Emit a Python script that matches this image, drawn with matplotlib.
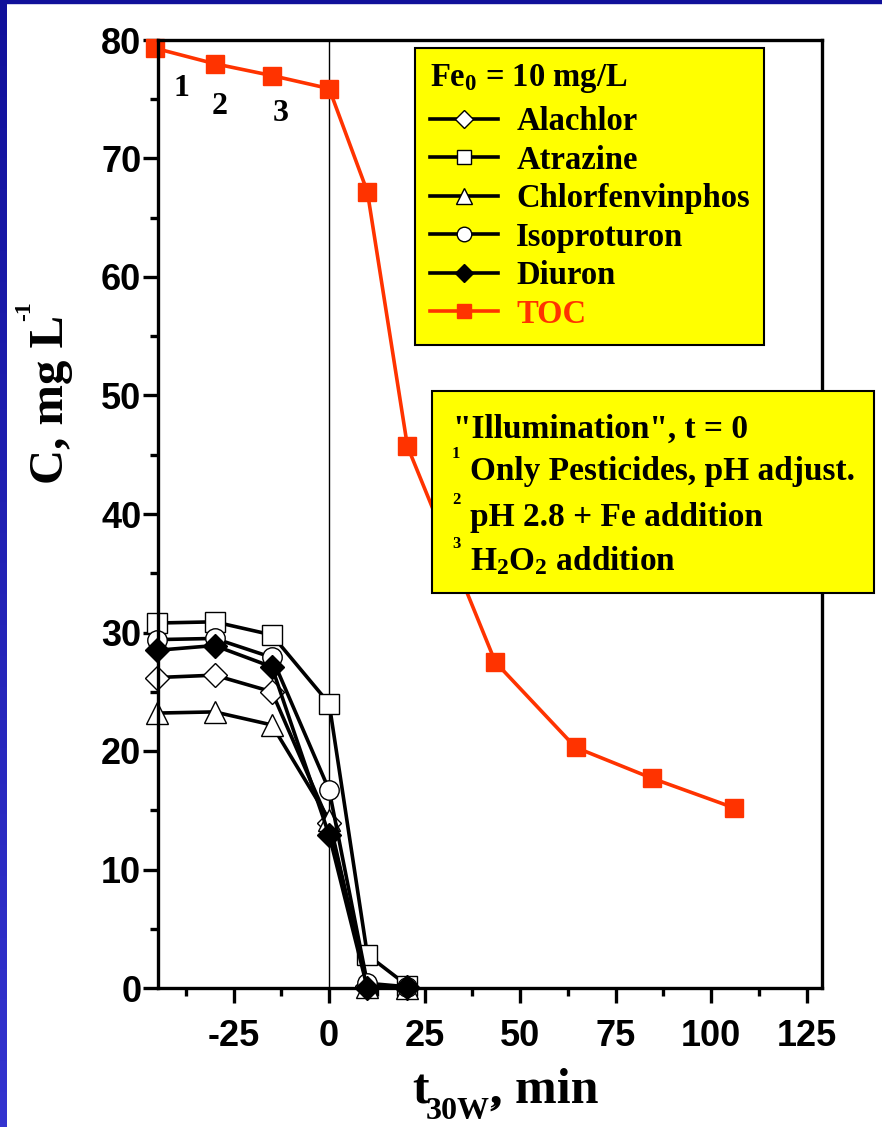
import numpy as np
import matplotlib
matplotlib.use('Agg')
import matplotlib.pyplot as plt
from matplotlib.patches import Rectangle
from matplotlib.colors import LinearSegmentedColormap
from matplotlib.font_manager import FontProperties
from matplotlib.ticker import MultipleLocator

plt.rcParams['mathtext.fontset'] = 'custom'
plt.rcParams['mathtext.rm'] = 'Liberation Serif:bold'
plt.rcParams['mathtext.it'] = 'Liberation Serif:bold'
plt.rcParams['mathtext.bf'] = 'Liberation Serif:bold'
plt.rcParams['axes.unicode_minus'] = False

# pesticide concentrations (mg/L) vs. time
t_pest = [-45, -30, -15, 0, 10, 20.5]
alachlor = [26.2, 26.4, 25.0, 13.9, 0.2, 0.0]
atrazine = [30.8, 30.9, 29.8, 24.0, 2.8, 0.2]
chlorfenvinphos = [23.2, 23.3, 22.2, 14.2, 0.1, 0.0]
isoproturon = [29.4, 29.5, 27.9, 16.7, 0.4, 0.1]
diuron = [28.5, 28.9, 27.1, 12.9, 0.0, 0.1]

# total organic carbon
t_toc = [-45.5, -30, -15, 0, 10, 20.5, 43.5, 64.5, 84.5, 106]
toc = [79.3, 78.0, 77.0, 75.9, 67.2, 45.7, 27.5, 20.3, 17.7, 15.2]

# step labels before illumination
step_labels = ['1', '2', '3']
step_x = [-38.7, -28.8, -12.8]
step_y = [75.9, 74.4, 73.8]

notes = ['Only Pesticides, pH adjust.', 'pH 2.8 + Fe addition', 'H$_2$O$_2$ addition']

W, H = 882, 1127
red = '#ff3300'

fig = plt.figure(figsize=(W / 100, H / 100), dpi=100)

def fx(px):
    return px / W

def fy(py):
    return 1 - py / H

def serif_text(x, y, s, size, **kw):
    return fig.text(fx(x), fy(y), s, family='Liberation Serif', weight='bold',
                    fontsize=size, **kw)

# blue frame on the top and left edge
strip = fig.add_axes([0, 0, fx(7), 1])
grad = np.linspace(0, 1, 256).reshape(-1, 1)
cm = LinearSegmentedColormap.from_list('frame', ['#10109a', '#3434d0'])
strip.imshow(grad, aspect='auto', cmap=cm, origin='upper')
strip.axis('off')
fig.add_artist(Rectangle((0, fy(3)), 1, fy(0) - fy(3), transform=fig.transFigure,
                         color='#10109a', zorder=5))

ax = fig.add_axes([fx(158), fy(988), fx(822 - 158), fy(40) - fy(988)])

kw = dict(color='black', lw=2.6, markersize=14, markeredgecolor='black',
          markeredgewidth=1.0, clip_on=False)
ax.plot(t_pest, alachlor, marker='D', markerfacecolor='white', label='Alachlor', **{**kw, 'markersize': 12})
ax.plot(t_pest, atrazine, marker='s', markerfacecolor='white', label='Atrazine', **kw)
ax.plot(t_pest, chlorfenvinphos, marker='^', markerfacecolor='white', label='Chlorfenvinphos', **{**kw, 'markersize': 16})
ax.plot(t_pest, isoproturon, marker='o', markerfacecolor='white', label='Isoproturon', **kw)
ax.plot(t_pest, diuron, marker='D', markerfacecolor='black', label='Diuron', **{**kw, 'markersize': 12})
ax.plot(t_toc, toc, color=red, lw=2.6, marker='s', markersize=13, markerfacecolor=red,
        markeredgecolor=red, label='TOC', clip_on=False)

ax.axvline(0, color='black', lw=1.0, zorder=1)

ax.set_xlim(-44.8, 129)
ax.set_ylim(0, 80)
ax.set_xticks([-25, 0, 25, 50, 75, 100, 125])
ax.xaxis.set_minor_locator(MultipleLocator(12.5))
ax.yaxis.set_major_locator(MultipleLocator(10))
ax.yaxis.set_minor_locator(MultipleLocator(5))
ax.tick_params(which='major', direction='out', length=11, width=2.4)
ax.tick_params(which='minor', direction='out', length=6, width=2.4)
ax.tick_params(axis='x', which='major', pad=11)
ax.tick_params(axis='y', which='major', pad=1)
for lab in ax.get_xticklabels() + ax.get_yticklabels():
    lab.set_fontfamily('Liberation Sans')
    lab.set_fontweight('bold')
    lab.set_fontsize(26)
for s in ax.spines.values():
    s.set_linewidth(2.4)

for lab, x, y in zip(step_labels, step_x, step_y):
    ax.text(x, y, lab, family='Liberation Serif', weight='bold', fontsize=23,
            ha='center', va='center')

serif = FontProperties(family='Liberation Serif', weight='bold', size=23.5)
leg = ax.legend(loc='upper left', bbox_to_anchor=(0.387, 0.992), borderaxespad=0,
                title='Fe$_0$ = 10 mg/L', prop=serif, title_fontproperties=serif,
                alignment='left', fancybox=False, facecolor='yellow', edgecolor='black',
                framealpha=1, handlelength=2.1, handletextpad=0.55, labelspacing=0.23,
                borderpad=0.45, markerscale=0.75)
leg.get_frame().set_linewidth(1.5)
leg.get_texts()[-1].set_color(red)
leg._legend_box.sep = 8

# annotation box about the pre-illumination steps
box = Rectangle((fx(432), fy(593)), fx(874 - 432), fy(391) - fy(593), transform=fig.transFigure,
                facecolor='yellow', edgecolor='black', lw=1.5, zorder=6)
fig.add_artist(box)
serif_text(453, 438, '"Illumination", t = 0', 24, va='baseline', zorder=7)
for i, (note, base) in enumerate(zip(notes, [480, 526, 570])):
    serif_text(452, base - 22, str(i + 1), 12, va='baseline', zorder=7)
    serif_text(470, base, note, 24, va='baseline', zorder=7)

# axis titles
serif_text(51, 484, 'C, mg L', 35, rotation=90, ha='center', va='bottom')
serif_text(25, 321, '-1', 17, rotation=90, ha='center', va='bottom')
serif_text(412, 1103, 't', 36, va='baseline')
serif_text(426, 1119, '30W\u2019', 23, va='baseline')
serif_text(490, 1103, ', min', 36, va='baseline')

fig.savefig('out.png', dpi=100)
